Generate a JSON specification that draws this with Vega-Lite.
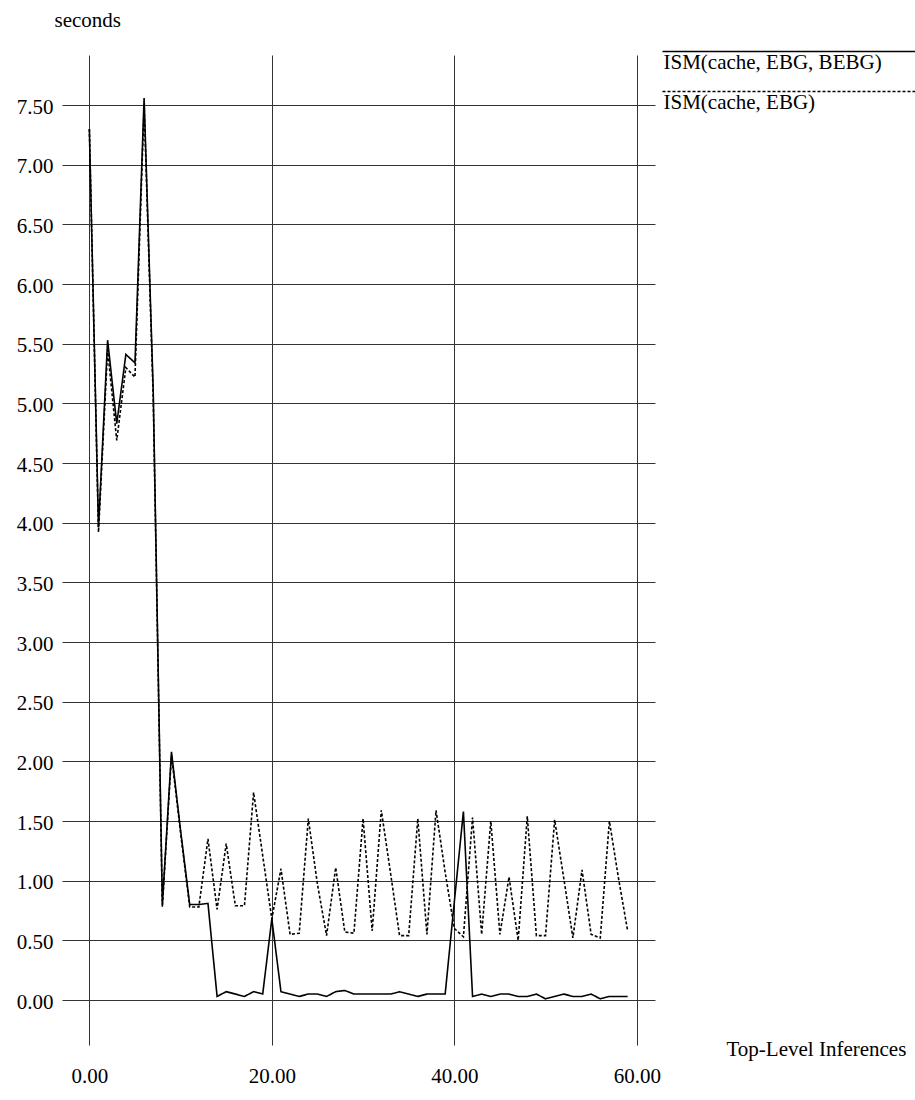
{
  "$schema": "https://vega.github.io/schema/vega-lite/v6.json",
  "width": 593,
  "height": 990,
  "autosize": "none",
  "padding": {"left": 62, "top": 55, "right": 260, "bottom": 55},
  "background": "white",
  "config": {
    "view": {"stroke": null},
    "font": "'Liberation Serif', 'Times New Roman', Times, serif",
    "axis": {
      "labelFont": "'Liberation Serif', 'Times New Roman', Times, serif",
      "labelFontSize": 21,
      "labelColor": "black",
      "titleFont": "'Liberation Serif', 'Times New Roman', Times, serif",
      "titleFontSize": 21,
      "titleFontWeight": "normal",
      "titleColor": "black",
      "domain": false,
      "ticks": false,
      "grid": true,
      "gridColor": "#333333",
      "gridWidth": 1,
      "gridOpacity": 1
    },
    "legend": {
      "labelFont": "'Liberation Serif', 'Times New Roman', Times, serif"
    }
  },
  "data": {
    "values": [
      {"n": 0, "series": "ISM(cache, EBG, BEBG)", "seconds": 7.30},
      {"n": 1, "series": "ISM(cache, EBG, BEBG)", "seconds": 3.96},
      {"n": 2, "series": "ISM(cache, EBG, BEBG)", "seconds": 5.53},
      {"n": 3, "series": "ISM(cache, EBG, BEBG)", "seconds": 4.83},
      {"n": 4, "series": "ISM(cache, EBG, BEBG)", "seconds": 5.41},
      {"n": 5, "series": "ISM(cache, EBG, BEBG)", "seconds": 5.34},
      {"n": 6, "series": "ISM(cache, EBG, BEBG)", "seconds": 7.56},
      {"n": 7, "series": "ISM(cache, EBG, BEBG)", "seconds": 5.10},
      {"n": 8, "series": "ISM(cache, EBG, BEBG)", "seconds": 0.80},
      {"n": 9, "series": "ISM(cache, EBG, BEBG)", "seconds": 2.08},
      {"n": 10, "series": "ISM(cache, EBG, BEBG)", "seconds": 1.42},
      {"n": 11, "series": "ISM(cache, EBG, BEBG)", "seconds": 0.80},
      {"n": 12, "series": "ISM(cache, EBG, BEBG)", "seconds": 0.80},
      {"n": 13, "series": "ISM(cache, EBG, BEBG)", "seconds": 0.81},
      {"n": 14, "series": "ISM(cache, EBG, BEBG)", "seconds": 0.03},
      {"n": 15, "series": "ISM(cache, EBG, BEBG)", "seconds": 0.07},
      {"n": 16, "series": "ISM(cache, EBG, BEBG)", "seconds": 0.05},
      {"n": 17, "series": "ISM(cache, EBG, BEBG)", "seconds": 0.03},
      {"n": 18, "series": "ISM(cache, EBG, BEBG)", "seconds": 0.07},
      {"n": 19, "series": "ISM(cache, EBG, BEBG)", "seconds": 0.05},
      {"n": 20, "series": "ISM(cache, EBG, BEBG)", "seconds": 0.68},
      {"n": 21, "series": "ISM(cache, EBG, BEBG)", "seconds": 0.07},
      {"n": 22, "series": "ISM(cache, EBG, BEBG)", "seconds": 0.05},
      {"n": 23, "series": "ISM(cache, EBG, BEBG)", "seconds": 0.03},
      {"n": 24, "series": "ISM(cache, EBG, BEBG)", "seconds": 0.05},
      {"n": 25, "series": "ISM(cache, EBG, BEBG)", "seconds": 0.05},
      {"n": 26, "series": "ISM(cache, EBG, BEBG)", "seconds": 0.03},
      {"n": 27, "series": "ISM(cache, EBG, BEBG)", "seconds": 0.07},
      {"n": 28, "series": "ISM(cache, EBG, BEBG)", "seconds": 0.08},
      {"n": 29, "series": "ISM(cache, EBG, BEBG)", "seconds": 0.05},
      {"n": 30, "series": "ISM(cache, EBG, BEBG)", "seconds": 0.05},
      {"n": 31, "series": "ISM(cache, EBG, BEBG)", "seconds": 0.05},
      {"n": 32, "series": "ISM(cache, EBG, BEBG)", "seconds": 0.05},
      {"n": 33, "series": "ISM(cache, EBG, BEBG)", "seconds": 0.05},
      {"n": 34, "series": "ISM(cache, EBG, BEBG)", "seconds": 0.07},
      {"n": 35, "series": "ISM(cache, EBG, BEBG)", "seconds": 0.05},
      {"n": 36, "series": "ISM(cache, EBG, BEBG)", "seconds": 0.03},
      {"n": 37, "series": "ISM(cache, EBG, BEBG)", "seconds": 0.05},
      {"n": 38, "series": "ISM(cache, EBG, BEBG)", "seconds": 0.05},
      {"n": 39, "series": "ISM(cache, EBG, BEBG)", "seconds": 0.05},
      {"n": 40, "series": "ISM(cache, EBG, BEBG)", "seconds": 0.82},
      {"n": 41, "series": "ISM(cache, EBG, BEBG)", "seconds": 1.58},
      {"n": 42, "series": "ISM(cache, EBG, BEBG)", "seconds": 0.03},
      {"n": 43, "series": "ISM(cache, EBG, BEBG)", "seconds": 0.05},
      {"n": 44, "series": "ISM(cache, EBG, BEBG)", "seconds": 0.03},
      {"n": 45, "series": "ISM(cache, EBG, BEBG)", "seconds": 0.05},
      {"n": 46, "series": "ISM(cache, EBG, BEBG)", "seconds": 0.05},
      {"n": 47, "series": "ISM(cache, EBG, BEBG)", "seconds": 0.03},
      {"n": 48, "series": "ISM(cache, EBG, BEBG)", "seconds": 0.03},
      {"n": 49, "series": "ISM(cache, EBG, BEBG)", "seconds": 0.05},
      {"n": 50, "series": "ISM(cache, EBG, BEBG)", "seconds": 0.01},
      {"n": 51, "series": "ISM(cache, EBG, BEBG)", "seconds": 0.03},
      {"n": 52, "series": "ISM(cache, EBG, BEBG)", "seconds": 0.05},
      {"n": 53, "series": "ISM(cache, EBG, BEBG)", "seconds": 0.03},
      {"n": 54, "series": "ISM(cache, EBG, BEBG)", "seconds": 0.03},
      {"n": 55, "series": "ISM(cache, EBG, BEBG)", "seconds": 0.05},
      {"n": 56, "series": "ISM(cache, EBG, BEBG)", "seconds": 0.01},
      {"n": 57, "series": "ISM(cache, EBG, BEBG)", "seconds": 0.03},
      {"n": 58, "series": "ISM(cache, EBG, BEBG)", "seconds": 0.03},
      {"n": 59, "series": "ISM(cache, EBG, BEBG)", "seconds": 0.03},
      {"n": 0, "series": "ISM(cache, EBG)", "seconds": 7.30},
      {"n": 1, "series": "ISM(cache, EBG)", "seconds": 3.92},
      {"n": 2, "series": "ISM(cache, EBG)", "seconds": 5.45},
      {"n": 3, "series": "ISM(cache, EBG)", "seconds": 4.69},
      {"n": 4, "series": "ISM(cache, EBG)", "seconds": 5.30},
      {"n": 5, "series": "ISM(cache, EBG)", "seconds": 5.22},
      {"n": 6, "series": "ISM(cache, EBG)", "seconds": 7.50},
      {"n": 7, "series": "ISM(cache, EBG)", "seconds": 5.05},
      {"n": 8, "series": "ISM(cache, EBG)", "seconds": 0.78},
      {"n": 9, "series": "ISM(cache, EBG)", "seconds": 2.05},
      {"n": 10, "series": "ISM(cache, EBG)", "seconds": 1.40},
      {"n": 11, "series": "ISM(cache, EBG)", "seconds": 0.78},
      {"n": 12, "series": "ISM(cache, EBG)", "seconds": 0.78},
      {"n": 13, "series": "ISM(cache, EBG)", "seconds": 1.35},
      {"n": 14, "series": "ISM(cache, EBG)", "seconds": 0.76},
      {"n": 15, "series": "ISM(cache, EBG)", "seconds": 1.31},
      {"n": 16, "series": "ISM(cache, EBG)", "seconds": 0.79},
      {"n": 17, "series": "ISM(cache, EBG)", "seconds": 0.79},
      {"n": 18, "series": "ISM(cache, EBG)", "seconds": 1.74},
      {"n": 19, "series": "ISM(cache, EBG)", "seconds": 1.21},
      {"n": 20, "series": "ISM(cache, EBG)", "seconds": 0.68},
      {"n": 21, "series": "ISM(cache, EBG)", "seconds": 1.10},
      {"n": 22, "series": "ISM(cache, EBG)", "seconds": 0.55},
      {"n": 23, "series": "ISM(cache, EBG)", "seconds": 0.56},
      {"n": 24, "series": "ISM(cache, EBG)", "seconds": 1.52},
      {"n": 25, "series": "ISM(cache, EBG)", "seconds": 0.97},
      {"n": 26, "series": "ISM(cache, EBG)", "seconds": 0.54},
      {"n": 27, "series": "ISM(cache, EBG)", "seconds": 1.11},
      {"n": 28, "series": "ISM(cache, EBG)", "seconds": 0.57},
      {"n": 29, "series": "ISM(cache, EBG)", "seconds": 0.56},
      {"n": 30, "series": "ISM(cache, EBG)", "seconds": 1.52},
      {"n": 31, "series": "ISM(cache, EBG)", "seconds": 0.58},
      {"n": 32, "series": "ISM(cache, EBG)", "seconds": 1.59},
      {"n": 33, "series": "ISM(cache, EBG)", "seconds": 1.07},
      {"n": 34, "series": "ISM(cache, EBG)", "seconds": 0.54},
      {"n": 35, "series": "ISM(cache, EBG)", "seconds": 0.54},
      {"n": 36, "series": "ISM(cache, EBG)", "seconds": 1.52},
      {"n": 37, "series": "ISM(cache, EBG)", "seconds": 0.55},
      {"n": 38, "series": "ISM(cache, EBG)", "seconds": 1.59},
      {"n": 39, "series": "ISM(cache, EBG)", "seconds": 1.07},
      {"n": 40, "series": "ISM(cache, EBG)", "seconds": 0.60},
      {"n": 41, "series": "ISM(cache, EBG)", "seconds": 0.53},
      {"n": 42, "series": "ISM(cache, EBG)", "seconds": 1.53},
      {"n": 43, "series": "ISM(cache, EBG)", "seconds": 0.55},
      {"n": 44, "series": "ISM(cache, EBG)", "seconds": 1.50},
      {"n": 45, "series": "ISM(cache, EBG)", "seconds": 0.55},
      {"n": 46, "series": "ISM(cache, EBG)", "seconds": 1.03},
      {"n": 47, "series": "ISM(cache, EBG)", "seconds": 0.50},
      {"n": 48, "series": "ISM(cache, EBG)", "seconds": 1.54},
      {"n": 49, "series": "ISM(cache, EBG)", "seconds": 0.54},
      {"n": 50, "series": "ISM(cache, EBG)", "seconds": 0.54},
      {"n": 51, "series": "ISM(cache, EBG)", "seconds": 1.51},
      {"n": 52, "series": "ISM(cache, EBG)", "seconds": 1.02},
      {"n": 53, "series": "ISM(cache, EBG)", "seconds": 0.52},
      {"n": 54, "series": "ISM(cache, EBG)", "seconds": 1.09},
      {"n": 55, "series": "ISM(cache, EBG)", "seconds": 0.55},
      {"n": 56, "series": "ISM(cache, EBG)", "seconds": 0.52},
      {"n": 57, "series": "ISM(cache, EBG)", "seconds": 1.50},
      {"n": 58, "series": "ISM(cache, EBG)", "seconds": 1.02},
      {"n": 59, "series": "ISM(cache, EBG)", "seconds": 0.58}
    ]
  },
  "mark": {"type": "line", "color": "black", "strokeWidth": 1.6},
  "encoding": {
    "x": {
      "field": "n",
      "type": "quantitative",
      "scale": {"domain": [-3, 62], "nice": false, "zero": false},
      "axis": {
        "values": [0, 20, 40, 60],
        "format": ".2f",
        "labelBaseline": "alphabetic",
        "labelPadding": 37,
        "labelFlush": false,
        "title": "Top-Level Inferences",
        "titleX": 664,
        "titleY": 10,
        "titleAlign": "left",
        "titleBaseline": "alphabetic"
      }
    },
    "y": {
      "field": "seconds",
      "type": "quantitative",
      "scale": {"domain": [-0.377, 7.92], "nice": false, "zero": false},
      "axis": {
        "values": [0, 0.5, 1, 1.5, 2, 2.5, 3, 3.5, 4, 4.5, 5, 5.5, 6, 6.5, 7, 7.5],
        "format": ".2f",
        "labelAlign": "right",
        "labelBaseline": "alphabetic",
        "labelOffset": 8,
        "labelPadding": 9,
        "labelFlush": false,
        "title": "seconds",
        "titleAngle": 0,
        "titleX": -8,
        "titleY": -29,
        "titleAlign": "left",
        "titleBaseline": "alphabetic"
      }
    },
    "strokeDash": {
      "field": "series",
      "type": "nominal",
      "scale": {
        "domain": ["ISM(cache, EBG, BEBG)", "ISM(cache, EBG)"],
        "range": [[1, 0], [3, 2]]
      },
      "legend": {
        "orient": "none",
        "legendX": 591,
        "legendY": -14,
        "title": null,
        "padding": 0,
        "symbolType": "M -1 0 L 270 0",
        "symbolSize": 4,
        "symbolStrokeWidth": 1.5,
        "symbolStrokeColor": "black",
        "rowPadding": 8,
        "labelBaseline": "top",
        "labelOffset": -10.5,
        "labelFontSize": 21,
        "labelColor": "black",
        "labelLimit": 0
      }
    }
  }
}
